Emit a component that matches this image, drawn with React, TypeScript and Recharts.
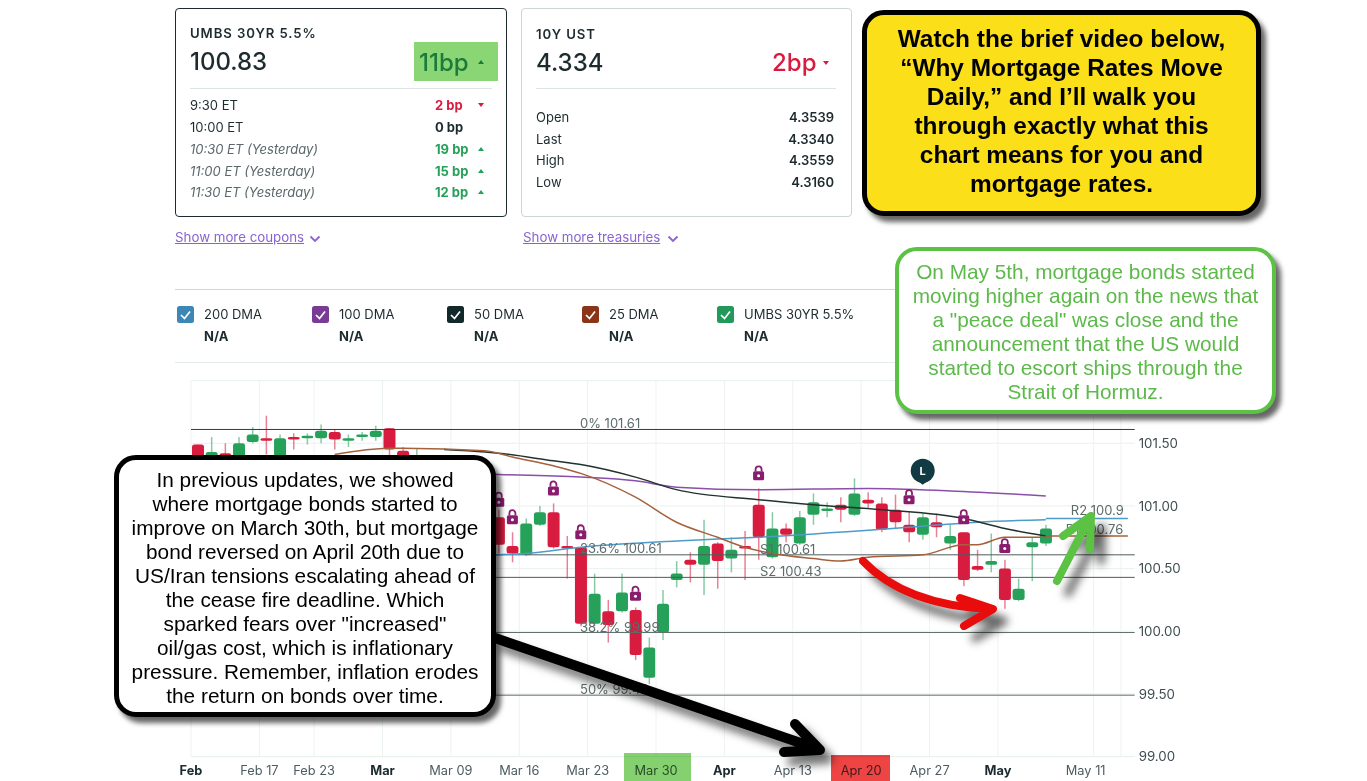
import React from 'react';
import { ComposedChart, Bar, Line, XAxis, YAxis, CartesianGrid, ReferenceLine, ReferenceDot } from 'recharts';

const categories = [
  'Feb 09', 'Feb 10', 'Feb 11', 'Feb 12', 'Feb 13', 'Feb 17', 'Feb 18', 'Feb 19', 'Feb 20', 'Feb 23',
  'Feb 24', 'Feb 25', 'Feb 26', 'Feb 27', 'Mar 02', 'Mar 03', 'Mar 04', 'Mar 05', 'Mar 06', 'Mar 09',
  'Mar 10', 'Mar 11', 'Mar 12', 'Mar 13', 'Mar 16', 'Mar 17', 'Mar 18', 'Mar 19', 'Mar 20', 'Mar 23',
  'Mar 24', 'Mar 25', 'Mar 26', 'Mar 27', 'Mar 30', 'Mar 31', 'Apr 01', 'Apr 02', 'Apr 03', 'Apr 06',
  'Apr 07', 'Apr 08', 'Apr 09', 'Apr 10', 'Apr 13', 'Apr 14', 'Apr 15', 'Apr 16', 'Apr 17', 'Apr 20',
  'Apr 21', 'Apr 22', 'Apr 23', 'Apr 24', 'Apr 27', 'Apr 28', 'Apr 29', 'Apr 30', 'May 01', 'May 04',
  'May 05', 'May 06', 'May 07', 'May 08', 'May 11', 'May 12', 'May 13', 'May 14', 'May 15',
];

const candleOpen = [
  101.49, 101.3, 101.42, 101.28, 101.51, 101.54, 101.35, 101.55, 101.55, 101.54,
  101.59, 101.52, 101.56, 101.55, 101.62, 101.44, 101.2, 101.3, 101.15, 100.9,
  101.02, 100.78, 100.91, 100.68, 100.61, 100.85, 100.95, 100.68, 100.67, 100.06,
  100.16, 100.16, 100.17, 99.63, 99.99, 100.41, 100.57, 100.53, 100.7, 100.58,
  100.68, 101.01, 100.59, 100.82, 100.7, 100.93, 100.97, 101.01, 100.93, 101.05,
  101.02, 100.97, 100.85, 100.77, 100.87, 100.7, 100.79, 100.52, 100.53, 100.5,
  100.25, 100.67, 100.7,
];
const candleClose = [
  101.2, 101.43, 101.3, 101.5, 101.57, 101.52, 101.54, 101.53, 101.56, 101.6,
  101.53, 101.54, 101.57, 101.6, 101.45, 101.2, 101.35, 101.15, 100.95, 101.05,
  100.82, 100.95, 100.69, 100.62, 100.86, 100.95, 100.67, 100.67, 100.06, 100.3,
  100.05, 100.31, 99.81, 99.87, 100.22, 100.46, 100.53, 100.68, 100.56, 100.65,
  100.67, 100.75, 100.82, 100.77, 100.91, 101.03, 100.98, 100.97, 101.1, 101.02,
  100.81, 100.87, 100.79, 100.91, 100.83, 100.76, 100.41, 100.49, 100.56, 100.25,
  100.34, 100.71, 100.82,
];
const candleHigh = [
  101.49, 101.55, 101.5, 101.55, 101.63, 101.72, 101.57, 101.58, 101.58, 101.65,
  101.61, 101.57, 101.59, 101.64, 101.62, 101.47, 101.46, 101.38, 101.2, 101.12,
  101.08, 100.98, 100.97, 100.79, 100.9, 101.0, 101.02, 100.76, 100.67, 100.46,
  100.25, 100.46, 100.19, 99.95, 100.33, 100.56, 100.63, 100.89, 100.71, 100.75,
  100.8, 101.14, 100.95, 100.86, 100.96, 101.1, 101.03, 101.07, 101.22, 101.11,
  101.07, 101.09, 100.95, 100.94, 100.94, 100.85, 100.79, 100.65, 100.78, 100.57,
  100.42, 100.75, 100.85,
];
const candleLow = [
  101.12, 101.22, 101.2, 101.22, 101.5, 101.41, 101.3, 101.45, 101.49, 101.5,
  101.45, 101.47, 101.52, 101.52, 101.3, 101.1, 101.1, 101.05, 100.9, 100.85,
  100.75, 100.72, 100.62, 100.55, 100.6, 100.84, 100.66, 100.42, 100.04, 100.04,
  99.91, 100.15, 99.77, 99.58, 99.93, 100.35, 100.39, 100.29, 100.34, 100.47,
  100.41, 100.57, 100.58, 100.71, 100.69, 100.85, 100.91, 100.87, 100.92, 100.98,
  100.79, 100.82, 100.71, 100.73, 100.75, 100.65, 100.36, 100.48, 100.47, 100.18,
  100.24, 100.4, 100.68,
];

// moving averages: values read at a few slots, the line joins them
const ma25Slots = [10, 14, 15, 21, 23, 26, 28, 32, 35, 38, 40, 42, 45, 47, 49, 53, 56, 57, 59, 62];
const ma25Values = [101.41, 101.46, 101.46, 101.44, 101.39, 101.32, 101.26, 101.07, 100.87, 100.75, 100.67, 100.62, 100.58, 100.56, 100.59, 100.61, 100.69, 100.69, 100.75, 100.75];
const ma50Slots = [18, 21, 22, 26, 28, 32, 35, 41, 45, 50, 56, 59, 62];
const ma50Values = [101.45, 101.43, 101.42, 101.36, 101.33, 101.23, 101.13, 101.05, 101.01, 100.97, 100.9, 100.82, 100.76];
const ma100Slots = [18, 22, 28, 32, 35, 41, 49, 55, 62];
const ma100Values = [101.26, 101.25, 101.23, 101.2, 101.15, 101.13, 101.14, 101.12, 101.08];
const ma200Slots = [18, 22, 24, 28, 35, 41, 52, 57, 62];
const ma200Values = [100.57, 100.61, 100.62, 100.67, 100.72, 100.75, 100.83, 100.87, 100.89];

const lockSlots = [22, 23, 26, 28, 32, 41, 52, 56, 59];
const lockValues = [101.05, 100.91, 101.14, 100.79, 100.3, 101.26, 101.07, 100.91, 100.68];

const yTicks = [99, 99.5, 100, 100.5, 101, 101.5];
const gridSlots = [0, 5, 9, 14, 19, 24, 29, 34, 39, 44, 49, 54, 59, 66, 68];
const tickSlots = [0, 5, 9, 14, 19, 24, 29, 34, 39, 44, 49, 54, 59, 66];
const tickLabels = ['Feb', 'Feb 17', 'Feb 23', 'Mar', 'Mar 09', 'Mar 16', 'Mar 23', 'Mar 30', 'Apr', 'Apr 13', 'Apr 20', 'Apr 27', 'May', 'May 11'];
const monthLabels = ['Feb', 'Mar', 'Apr', 'May'];

const levelValues = [101.61, 100.61, 100.43, 99.99, 99.49];
const levelColors = ['#2e3d3d', '#4f5b5b', '#4f5b5b', '#5f6f6c', '#5f6f6c'];

const bondRows = [
  { time: '9:30 ET', bp: '2 bp', dir: 'down', old: false },
  { time: '10:00 ET', bp: '0 bp', dir: 'flat', old: false },
  { time: '10:30 ET (Yesterday)', bp: '19 bp', dir: 'up', old: true },
  { time: '11:00 ET (Yesterday)', bp: '15 bp', dir: 'up', old: true },
  { time: '11:30 ET (Yesterday)', bp: '12 bp', dir: 'up', old: true },
];
const ustRows = [['Open', '4.3539'], ['Last', '4.3340'], ['High', '4.3559'], ['Low', '4.3160']];
const legendNames = ['200 DMA', '100 DMA', '50 DMA', '25 DMA', 'UMBS 30YR 5.5%'];
const legendColors = ['#3d87b5', '#7a3b96', '#12282a', '#8a3418', '#22995a'];

const yellowText = ['Watch the brief video below,', '\u201cWhy Mortgage Rates Move', 'Daily,\u201d and I\u2019ll walk you', 'through exactly what this', 'chart means for you and', 'mortgage rates.'];
const greenText = ['On May 5th, mortgage bonds started', 'moving higher again on the news that', 'a "peace deal" was close and the', 'announcement that the US would', 'started to escort ships through the', 'Strait of Hormuz.'];
const blackText = ['In previous updates, we showed', 'where mortgage bonds started to', 'improve on March 30th, but mortgage', 'bond reversed on April 20th due to', 'US/Iran tensions escalating ahead of', 'the cease fire deadline. Which', 'sparked fears over "increased"', 'oil/gas cost, which is inflationary', 'pressure. Remember, inflation erodes', 'the return on bonds over time.'];

const GREEN = '#26a15a';
const RED = '#d81c3f';
const UI_FONT = 'Inter, "Noto Sans", sans-serif';
const CALLOUT_FONT = '"Liberation Sans", Arial, sans-serif';

const table = categories.map((date, i) => {
  const pick = (slots: number[], values: number[]) => {
    const at = slots.indexOf(i);
    return at >= 0 ? values[at] : null;
  };
  return {
    date,
    open: candleOpen[i],
    close: candleClose[i],
    high: candleHigh[i],
    low: candleLow[i],
    range: i < candleOpen.length ? [candleLow[i], candleHigh[i]] : null,
    ma25: pick(ma25Slots, ma25Values),
    ma50: pick(ma50Slots, ma50Values),
    ma100: pick(ma100Slots, ma100Values),
    ma200: pick(ma200Slots, ma200Values),
    lock: pick(lockSlots, lockValues),
  };
});

// bar spans low..high, body is placed from the same px-per-unit
const Candle = (props: any) => {
  const { x, y, width, height, payload } = props;
  if (!payload || payload.open == null || !height) return <g />;
  const { open, close, high, low } = payload;
  const perUnit = height / (high - low);
  const cx = x + width / 2;
  const top = y + (high - Math.max(open, close)) * perUnit;
  const bodyH = Math.max(Math.abs(open - close) * perUnit, 2.5);
  const color = close >= open ? GREEN : RED;
  return (
    <g>
      <line x1={cx} x2={cx} y1={y} y2={y + height} stroke={color} strokeWidth={1.5} opacity={0.55} />
      <rect x={cx - 6} y={top} width={12} height={bodyH} rx={2.5} fill={color} />
    </g>
  );
};

const LockDot = (props: any) => {
  const { cx, cy, index, value } = props;
  if (value == null || cy == null) return <g key={index} />;
  return (
    <g key={index}>
      <path d={`M${cx - 3} ${cy - 2} V${cy - 4} A3 3 0 0 1 ${cx + 3} ${cy - 4} V${cy - 2}`} fill="none" stroke="#8a1c6e" strokeWidth={1.8} />
      <rect x={cx - 5.5} y={cy - 2} width={11} height={9} rx={1.5} fill="#8a1c6e" />
      <circle cx={cx} cy={cy + 2.5} r={1.5} fill="#fff" />
    </g>
  );
};

const LeaderPin = (props: any) => {
  const { cx, cy } = props;
  return (
    <g>
      <path d={`M${cx - 4} ${cy + 11} L${cx} ${cy + 14} L${cx + 4} ${cy + 11} Z`} fill="#123a42" />
      <circle cx={cx} cy={cy} r={12} fill="#123a42" />
      <text x={cx} y={cy + 4} textAnchor="middle" fontSize={11} fontWeight={700} fontFamily={UI_FONT} fill="#fff">L</text>
    </g>
  );
};

const XTick = (props: any) => {
  const { x, y, payload } = props;
  const at = tickSlots.indexOf(categories.indexOf(payload.value));
  if (at < 0) return <g />;
  const label = tickLabels[at];
  const isMonth = monthLabels.includes(label);
  const shift = label === 'May 11' ? -14.8 : -6.8;
  return (
    <text x={x + shift} y={y + 10} textAnchor="middle" fontSize={12.8} fontFamily={UI_FONT} fontWeight={isMonth ? 700 : 400} fill={isMonth ? '#1b2b2f' : '#4c5c60'}>
      {label}
    </text>
  );
};

const levelLabel = (text: string, dx: number, dy: number) => (p: any) => (
  <text x={p.viewBox.x + dx} y={p.viewBox.y + dy} fontSize={13} fontFamily={UI_FONT} fill="#5d6b6b">{text}</text>
);

const Triangle = ({ up, color, x, y }: { up: boolean; color: string; x: number; y: number }) => (
  <svg style={{ position: 'absolute', left: x, top: y }} width={8} height={6}>
    <path d={up ? 'M1 5 L4 1 L7 5 Z' : 'M1 1 L7 1 L4 5 Z'} fill={color} />
  </svg>
);

const Txt = ({ x, y, size = 13, weight = 400, color = '#1d2b2f', right, italic, spacing, children }: any) => (
  <div
    style={{
      position: 'absolute',
      left: right ? undefined : x,
      right: right ? 1367 - x : undefined,
      top: y - 12,
      lineHeight: '24px',
      fontSize: size,
      fontWeight: weight,
      color,
      fontStyle: italic ? 'italic' : 'normal',
      fontFamily: UI_FONT,
      letterSpacing: spacing,
      whiteSpace: 'nowrap',
    }}
  >
    {children}
  </div>
);

const Card = ({ x, y, w, h, border }: any) => (
  <div style={{ position: 'absolute', left: x, top: y, width: w, height: h, boxSizing: 'border-box', border: `1px solid ${border}`, borderRadius: 4, background: '#fff' }} />
);

const Callout = ({ x, y, w, h, border, borderWidth, bg, color, size, lineH, bold, lines, pad }: any) => (
  <div
    style={{
      position: 'absolute', left: x, top: y, width: w, height: h, boxSizing: 'border-box',
      border: `${borderWidth}px solid ${border}`, borderRadius: 22, background: bg,
      boxShadow: '5px 6px 5px rgba(0,0,0,0.6)',
      fontFamily: CALLOUT_FONT, fontSize: size, lineHeight: `${lineH}px`, fontWeight: bold ? 700 : 400,
      color, textAlign: 'center', paddingTop: pad,
    }}
  >
    {lines.map((l: string) => <div key={l} style={{ whiteSpace: 'nowrap' }}>{l}</div>)}
  </div>
);

export default function App() {
  return (
    <div style={{ position: 'absolute', left: 0, top: 0, width: 1367, height: 781, overflow: 'hidden', background: '#fff' }}>
      {/* summary cards */}
      <Card x={175} y={8} w={332} h={209} border="#1b2b2f" />
      <Txt x={190} y={33} size={13.2} weight={600} spacing="0.9px">UMBS 30YR 5.5%</Txt>
      <Txt x={190} y={62} size={24} weight={500}>100.83</Txt>
      <div style={{ position: 'absolute', left: 414, top: 42, width: 84, height: 39, background: '#8ad674' }} />
      <Txt x={419} y={63} size={24} weight={500} color="#1c7a3a">11bp</Txt>
      <Triangle up color="#1c7a3a" x={477} y={59} />
      <div style={{ position: 'absolute', left: 190, top: 88, width: 302, height: 1, background: '#dbe5e2' }} />
      {bondRows.map((r, i) => {
        const y = [105, 127, 149, 171, 192][i];
        const color = r.dir === 'up' ? GREEN : r.dir === 'down' ? RED : '#1d2b2f';
        return (
          <React.Fragment key={r.time}>
            <Txt x={190} y={y} color={r.old ? '#5b686b' : '#1d2b2f'} italic={r.old}>{r.time}</Txt>
            <Txt x={435} y={y} weight={700} color={color}>{r.bp}</Txt>
            {r.dir !== 'flat' && <Triangle up={r.dir === 'up'} color={color} x={477} y={y - 3} />}
          </React.Fragment>
        );
      })}

      <Card x={521} y={8} w={331} h={209} border="#c8d8d4" />
      <Txt x={536} y={34} size={13.2} weight={600} spacing="0.9px">10Y UST</Txt>
      <Txt x={536} y={63} size={24} weight={500}>4.334</Txt>
      <Txt x={772} y={63} size={24} weight={500} color={RED}>2bp</Txt>
      <Triangle up={false} color={RED} x={822} y={60} />
      <div style={{ position: 'absolute', left: 536, top: 88, width: 300, height: 1, background: '#dbe5e2' }} />
      {ustRows.map((r, i) => (
        <React.Fragment key={r[0]}>
          <Txt x={536} y={[117, 139, 160, 182][i]}>{r[0]}</Txt>
          <Txt x={834} right y={[117, 139, 160, 182][i]} weight={600}>{r[1]}</Txt>
        </React.Fragment>
      ))}

      {['Show more coupons', 'Show more treasuries'].map((t, i) => (
        <React.Fragment key={t}>
          <div style={{ position: 'absolute', left: [175, 523][i], top: 229, fontFamily: UI_FONT, fontSize: 13.3, lineHeight: '17px', color: '#8a63d2', textDecoration: 'underline', whiteSpace: 'nowrap' }}>{t}</div>
          <svg style={{ position: 'absolute', left: [309, 667][i], top: 235 }} width={12} height={8}>
            <path d="M1.5 1.5 L6 6 L10.5 1.5" fill="none" stroke="#8a63d2" strokeWidth={1.8} />
          </svg>
        </React.Fragment>
      ))}

      <div style={{ position: 'absolute', left: 175, top: 289, width: 1021, height: 1, background: '#cfd8d6' }} />
      <div style={{ position: 'absolute', left: 175, top: 362, width: 1021, height: 1, background: '#e6ecea' }} />

      {legendNames.map((name, i) => {
        const x = [177, 312, 447, 582, 717][i];
        return (
          <React.Fragment key={name}>
            <svg style={{ position: 'absolute', left: x, top: 306 }} width={17} height={17}>
              <rect width={17} height={17} rx={2.5} fill={legendColors[i]} />
              <path d="M4 9 L7.5 12.5 L13 5.5" fill="none" stroke="#fff" strokeWidth={1.7} />
            </svg>
            <Txt x={x + 27} y={314} color="#1d2b2f">{name}</Txt>
            <Txt x={x + 27} y={336} weight={700}>N/A</Txt>
          </React.Fragment>
        );
      })}

      <div style={{ position: 'absolute', left: 170, top: 370 }}>
        <ComposedChart
          width={1020}
          height={411}
          data={table}
          margin={{ top: 10.6, right: 0, bottom: 0, left: 21 }}
          barCategoryGap={1}
        >
          <CartesianGrid vertical={false} stroke="#e9f1ef" />
          {gridSlots.map((s) => (
            <ReferenceLine key={s} x={categories[s]} position="start" stroke="#edf3f1" />
          ))}
          <XAxis
            dataKey="date"
            scale="band"
            interval={0}
            height={24.4}
            tickLine={false}
            axisLine={{ stroke: '#e9f1ef' }}
            tick={<XTick />}
          />
          <YAxis
            orientation="right"
            domain={[99, 102]}
            ticks={yTicks}
            width={55.3}
            tickLine={false}
            axisLine={false}
            tickMargin={-2}
            tickFormatter={(v: number) => v.toFixed(2)}
            tick={{ fontSize: 13.3, fontFamily: UI_FONT, fill: '#3f4e50', textAnchor: 'start' }}
          />
          {levelValues.map((v, i) => (
            <ReferenceLine key={v} y={v} stroke={levelColors[i]} />
          ))}
          <Bar dataKey="range" shape={<Candle />} isAnimationActive={false} />
          <Line dataKey="ma200" stroke="#4d9bc8" strokeWidth={1.5} dot={false} connectNulls type="monotone" isAnimationActive={false} />
          <Line dataKey="ma100" stroke="#8a4fa8" strokeWidth={1.5} dot={false} connectNulls type="monotone" isAnimationActive={false} />
          <Line dataKey="ma50" stroke="#22332f" strokeWidth={1.5} dot={false} connectNulls type="monotone" isAnimationActive={false} />
          <Line dataKey="ma25" stroke="#a5603c" strokeWidth={1.5} dot={false} connectNulls type="monotone" isAnimationActive={false} />
          <Line dataKey="lock" stroke="none" dot={(p: any) => <LockDot {...p} />} activeDot={false} isAnimationActive={false} />
          {/* level captions sit on top of the candles */}
          <ReferenceLine zIndex={1500} y={101.61} stroke="none" label={levelLabel('0% 101.61', 389, -1)} />
          <ReferenceLine zIndex={1500} y={100.61} stroke="none" label={levelLabel('23.6% 100.61', 389, -2)} />
          <ReferenceLine zIndex={1500} y={100.61} stroke="none" label={levelLabel('S1 100.61', 569, -1)} />
          <ReferenceLine zIndex={1500} y={100.43} stroke="none" label={levelLabel('S2 100.43', 569, -1)} />
          <ReferenceLine zIndex={1500} y={99.99} stroke="none" label={levelLabel('38.2% 99.99', 389, -1)} />
          <ReferenceLine zIndex={1500} y={99.49} stroke="none" label={levelLabel('50% 99.49', 389, -1)} />
          <ReferenceLine
            segment={[{ x: categories[62], y: 100.9 }, { x: categories[68], y: 100.9 }]}
            stroke="#4d9bc8"
            strokeWidth={1.5}
            label={levelLabel('R2 100.9', 25, -3)}
          />
          <ReferenceLine
            segment={[{ x: categories[62], y: 100.76 }, { x: categories[68], y: 100.76 }]}
            stroke="#a5603c"
            strokeWidth={1.5}
            label={levelLabel('R1 100.76', 20, -2)}
          />
          <ReferenceDot x={categories[53]} y={101.28} r={12} shape={<LeaderPin />} />
        </ComposedChart>
      </div>

      {/* highlighted dates, multiplied over the axis labels */}
      <div style={{ position: 'absolute', left: 624, top: 753, width: 67, height: 28, background: '#86d16f', mixBlendMode: 'multiply' }} />
      <div style={{ position: 'absolute', left: 831, top: 755, width: 59, height: 26, background: '#ee4444', mixBlendMode: 'multiply' }} />

      {/* hand-drawn arrows laid over the chart */}
      <svg style={{ position: 'absolute', left: 0, top: 0 }} width={1367} height={781}>
        <g style={{ filter: 'drop-shadow(8px 9px 4px rgba(0,0,0,0.55))' }} fill="none" strokeLinecap="round" strokeLinejoin="round">
          <path d="M495 638 L818 749 M795 724 L820 750 L784 752" stroke="#000" strokeWidth={10} />
        </g>
        <g style={{ filter: 'drop-shadow(11px 12px 4px rgba(0,0,0,0.6))' }} fill="none" strokeLinecap="round" strokeLinejoin="round">
          <path d="M863 561 Q905 605 990 609 M960 598 L993 609 L964 626" stroke="#e80c0c" strokeWidth={8} />
          <path d="M1057 581 L1090 517 M1063 536 L1091 516 L1090 549" stroke="#5cc244" strokeWidth={8} />
        </g>
      </svg>

      <Callout x={862} y={10} w={399} h={206} border="#000" borderWidth={5} bg="#fbdf18" color="#000" size={24.4} lineH={29} bold lines={yellowText} pad={9} />
      <Callout x={895} y={247} w={381} h={167} border="#5cc244" borderWidth={4} bg="#fff" color="#5cb94a" size={20.8} lineH={24} lines={greenText} pad={9} />
      <Callout x={114} y={455} w={382} h={262} border="#000" borderWidth={5} bg="#fff" color="#000" size={20.8} lineH={24} lines={blackText} pad={8} />
    </div>
  );
}
